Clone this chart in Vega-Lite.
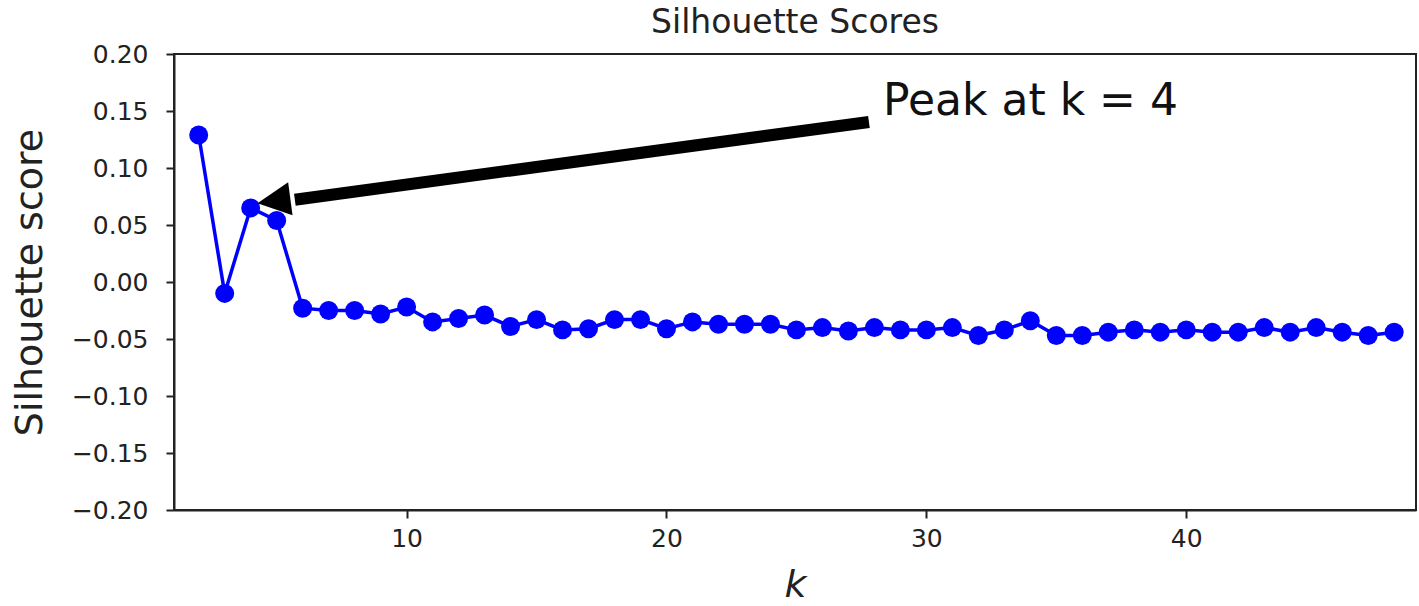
{
  "$schema": "https://vega.github.io/schema/vega-lite/v6.json",
  "autosize": "none",
  "width": 1242,
  "height": 456,
  "padding": {"left": 174, "top": 54, "right": 3, "bottom": 96},
  "background": "white",
  "config": {
    "font": "DejaVu Sans",
    "view": {"stroke": "#222", "strokeWidth": 2},
    "axis": {
      "grid": false,
      "domainColor": "#222",
      "domainWidth": 2,
      "tickColor": "#222",
      "tickWidth": 2,
      "tickSize": 8,
      "labelFont": "DejaVu Sans",
      "labelFontSize": 25,
      "labelColor": "#222",
      "titleFont": "DejaVu Sans",
      "titleFontWeight": "normal",
      "titleColor": "#222"
    }
  },
  "title": {
    "text": "Silhouette Scores",
    "fontSize": 33,
    "fontWeight": "normal",
    "color": "#222",
    "frame": "group",
    "anchor": "middle",
    "offset": 2
  },
  "layer": [
    {
      "data": {
        "values": [
          {"k": 2, "score": 0.129},
          {"k": 3, "score": -0.010},
          {"k": 4, "score": 0.065},
          {"k": 5, "score": 0.054},
          {"k": 6, "score": -0.023},
          {"k": 7, "score": -0.025},
          {"k": 8, "score": -0.025},
          {"k": 9, "score": -0.028},
          {"k": 10, "score": -0.022},
          {"k": 11, "score": -0.035},
          {"k": 12, "score": -0.032},
          {"k": 13, "score": -0.029},
          {"k": 14, "score": -0.039},
          {"k": 15, "score": -0.033},
          {"k": 16, "score": -0.042},
          {"k": 17, "score": -0.041},
          {"k": 18, "score": -0.033},
          {"k": 19, "score": -0.033},
          {"k": 20, "score": -0.041},
          {"k": 21, "score": -0.035},
          {"k": 22, "score": -0.037},
          {"k": 23, "score": -0.037},
          {"k": 24, "score": -0.037},
          {"k": 25, "score": -0.042},
          {"k": 26, "score": -0.040},
          {"k": 27, "score": -0.043},
          {"k": 28, "score": -0.040},
          {"k": 29, "score": -0.042},
          {"k": 30, "score": -0.042},
          {"k": 31, "score": -0.040},
          {"k": 32, "score": -0.047},
          {"k": 33, "score": -0.042},
          {"k": 34, "score": -0.034},
          {"k": 35, "score": -0.047},
          {"k": 36, "score": -0.047},
          {"k": 37, "score": -0.044},
          {"k": 38, "score": -0.042},
          {"k": 39, "score": -0.044},
          {"k": 40, "score": -0.042},
          {"k": 41, "score": -0.044},
          {"k": 42, "score": -0.044},
          {"k": 43, "score": -0.040},
          {"k": 44, "score": -0.044},
          {"k": 45, "score": -0.040},
          {"k": 46, "score": -0.044},
          {"k": 47, "score": -0.047},
          {"k": 48, "score": -0.044}
        ]
      },
      "layer": [
        {
          "mark": {"type": "line", "color": "#0000ff", "strokeWidth": 3.5},
          "encoding": {
            "x": {
              "field": "k",
              "type": "quantitative",
              "scale": {"domain": [1.05, 48.84], "nice": false, "zero": false},
              "axis": {
                "values": [10, 20, 30, 40],
                "title": "k",
                "titleFontSize": 38,
                "titleFontStyle": "italic",
                "titlePadding": 15,
                "labelPadding": 8
              }
            },
            "y": {
              "field": "score",
              "type": "quantitative",
              "scale": {"domain": [-0.2, 0.2], "nice": false, "zero": false},
              "axis": {
                "values": [-0.2, -0.15, -0.1, -0.05, 0, 0.05, 0.1, 0.15, 0.2],
                "format": ".2f",
                "title": "Silhouette score",
                "titleFontSize": 38,
                "titlePadding": 22,
                "labelPadding": 18
              }
            }
          }
        },
        {
          "mark": {"type": "point", "filled": true, "color": "#0000ff", "opacity": 1, "size": 360},
          "encoding": {
            "x": {"field": "k", "type": "quantitative"},
            "y": {"field": "score", "type": "quantitative"}
          }
        }
      ]
    },
    {
      "data": {"values": [{"k1": 27.79, "s1": 0.1404, "k2": 5.7, "s2": 0.0722}]},
      "mark": {"type": "rule", "color": "black", "strokeWidth": 12, "strokeCap": "butt"},
      "encoding": {
        "x": {"field": "k1", "type": "quantitative"},
        "y": {"field": "s1", "type": "quantitative"},
        "x2": {"field": "k2"},
        "y2": {"field": "s2"}
      }
    },
    {
      "data": {"values": [{"k": 4.894, "s": 0.0711}]},
      "mark": {"type": "point", "shape": "M -1 0 L 1 -1 L 1 1 Z", "filled": true, "color": "black", "opacity": 1, "size": 1100, "angle": 352.4},
      "encoding": {
        "x": {"field": "k", "type": "quantitative"},
        "y": {"field": "s", "type": "quantitative"}
      }
    },
    {
      "data": {"values": [{"k": 28.33, "s": 0.1465, "label": "Peak at k = 4"}]},
      "mark": {"type": "text", "align": "left", "baseline": "alphabetic", "fontSize": 44, "color": "#111", "font": "DejaVu Sans"},
      "encoding": {
        "x": {"field": "k", "type": "quantitative"},
        "y": {"field": "s", "type": "quantitative"},
        "text": {"field": "label"}
      }
    }
  ]
}
